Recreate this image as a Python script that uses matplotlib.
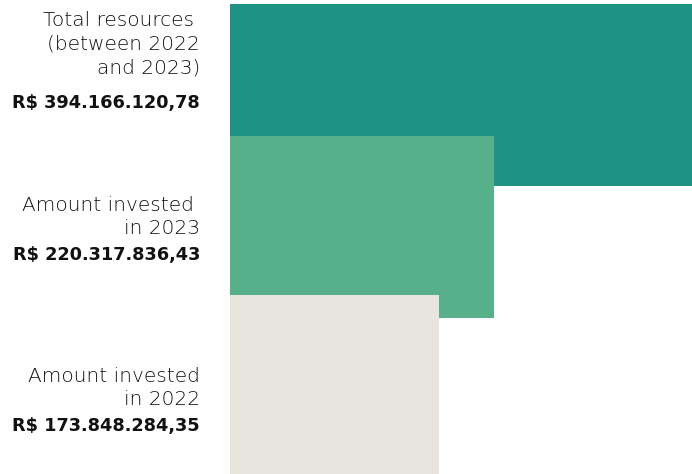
import matplotlib.pyplot as plt

# values in millions of R$
labels = ["Total resources \n(between 2022\nand 2023)",
          "Amount invested \nin 2023",
          "Amount invested\nin 2022"]
amounts = ["R$ 394.166.120,78", "R$ 220.317.836,43", "R$ 173.848.284,35"]
values = [394.166, 220.318, 173.848]
colors = ["#1e9285", "#56b08a", "#e8e4de"]

W, H = 692, 474
fig = plt.figure(figsize=(W / 100, H / 100), dpi=100)
ax = fig.add_axes([230 / W, 0, 462 / W, 1])
ax.set_xlim(0, 462 / 1.2)
ax.set_ylim(H, 0)
ax.axis("off")

# bar centres (pixel rows), drawn in order so later ones sit on top
centres = [95, 227, 386]
for v, c, y in zip(values, colors, centres):
    ax.barh(y, v, height=182, left=0, color=c, linewidth=0)

label_y = [44, 217, 388]
amount_y = [103, 255, 426]
for lab, ly, amt, ay in zip(labels, label_y, amounts, amount_y):
    fig.text(200 / W, 1 - ly / H, lab, ha="right", va="center",
             fontsize=14.5, family="DejaVu Sans", weight="light",
             color="#111111", linespacing=1.32)
    fig.text(200 / W, 1 - ay / H, amt, ha="right", va="center",
             fontsize=12.8, family="DejaVu Sans", weight="bold", color="#111111")

fig.savefig("out.png", dpi=100)
